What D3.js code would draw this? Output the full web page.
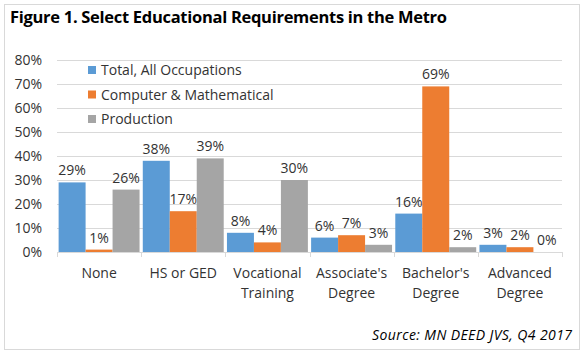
<!DOCTYPE html>
<html>
<head>
<meta charset="utf-8">
<script src="https://cdn.jsdelivr.net/npm/d3@7"></script>
<style>
  body { margin: 0; background: #fff; }
  svg { font-family: "Open Sans", "Noto Sans", sans-serif; }
</style>
</head>
<body>
<svg id="chart" width="587" height="359"></svg>
<script>
// chart data
var categories = [["None"], ["HS or GED"], ["Vocational", "Training"], ["Associate's", "Degree"], ["Bachelor's", "Degree"], ["Advanced", "Degree"]];
var seriesNames = ["Total, All Occupations", "Computer & Mathematical", "Production"];
var totalAll = [29, 38, 8, 6, 16, 3];
var compMath = [1, 17, 4, 7, 69, 2];
var production = [26, 39, 30, 3, 2, 0];
var yTicks = [0, 10, 20, 30, 40, 50, 60, 70, 80];
var colors = ["#5B9BD5", "#ED7D31", "#A5A5A5"];

var series = [totalAll, compMath, production];
var svg = d3.select("#chart");
var txt = "#333";

// outer frame
svg.append("rect").attr("x", 4.5).attr("y", 4.5).attr("width", 575).attr("height", 345)
  .attr("fill", "#fff").attr("stroke", "#D9D9D9");

svg.append("text").attr("x", 10).attr("y", 23)
  .attr("font-size", 16.5).attr("font-weight", "bold").attr("fill", "#000")
  .attr("textLength", 437)
  .text("Figure 1. Select Educational Requirements in the Metro");

var x0 = d3.scaleBand().domain(d3.range(categories.length)).range([57, 562]);
var x1 = d3.scaleBand().domain(d3.range(series.length)).range([0, x0.bandwidth()]).paddingOuter(0.06);
var y = d3.scaleLinear().domain([0, 80]).range([252, 60]);

// gridlines
svg.append("g").selectAll("line").data(yTicks.slice(1)).enter().append("line")
  .attr("x1", 57).attr("x2", 562)
  .attr("y1", d => Math.round(y(d)) + 0.5).attr("y2", d => Math.round(y(d)) + 0.5)
  .attr("stroke", "#D9D9D9");

// y axis labels
svg.append("g").selectAll("text").data(yTicks).enter().append("text")
  .attr("x", 42).attr("y", d => y(d) + 5)
  .attr("text-anchor", "end").attr("font-size", 14).attr("fill", txt)
  .text(d => d + "%");

// bars
var groups = svg.append("g").selectAll("g").data(series).enter().append("g")
  .attr("fill", (d, i) => colors[i]);

groups.each(function(vals, si) {
  var g = d3.select(this);
  g.selectAll("rect").data(vals).enter().append("rect")
    .attr("x", (d, ci) => x0(ci) + x1(si))
    .attr("y", d => y(d))
    .attr("width", x1.bandwidth())
    .attr("height", d => y(0) - y(d));
  g.selectAll("text").data(vals).enter().append("text")
    .attr("x", (d, ci) => x0(ci) + x1(si) + x1.bandwidth() / 2)
    .attr("y", d => y(d) - 7)
    .attr("text-anchor", "middle").attr("font-size", 14).attr("fill", txt)
    .text(d => d + "%");
});

// x axis line and ticks
svg.append("line").attr("x1", 57).attr("x2", 562).attr("y1", 252.5).attr("y2", 252.5).attr("stroke", "#D9D9D9");
svg.append("g").selectAll("line").data(d3.range(categories.length + 1)).enter().append("line")
  .attr("x1", i => Math.round(57 + i * x0.bandwidth()) + 0.5)
  .attr("x2", i => Math.round(57 + i * x0.bandwidth()) + 0.5)
  .attr("y1", 252).attr("y2", 257).attr("stroke", "#D9D9D9");

// category labels
var cat = svg.append("g").selectAll("text").data(categories).enter().append("text")
  .attr("text-anchor", "middle").attr("font-size", 14).attr("fill", txt)
  .attr("transform", (d, i) => "translate(" + (x0(i) + x0.bandwidth() / 2) + ",278)");
cat.selectAll("tspan").data(d => d).enter().append("tspan")
  .attr("x", 0).attr("dy", (d, i) => i ? 20 : 0).text(d => d);

// legend
var leg = svg.append("g").selectAll("g").data(seriesNames).enter().append("g")
  .attr("transform", (d, i) => "translate(88," + (70 + i * 24.5) + ")");
leg.append("rect").attr("x", 0).attr("y", -4).attr("width", 8).attr("height", 8)
  .attr("fill", (d, i) => colors[i]);
leg.append("text").attr("x", 13).attr("y", 5).attr("font-size", 14).attr("fill", txt).text(d => d);

// source
svg.append("text").attr("x", 572).attr("y", 340).attr("text-anchor", "end")
  .attr("font-size", 14).attr("font-style", "italic").attr("fill", "#000")
  .attr("textLength", 200)
  .text("Source: MN DEED JVS, Q4 2017");
</script>
</body>
</html>
